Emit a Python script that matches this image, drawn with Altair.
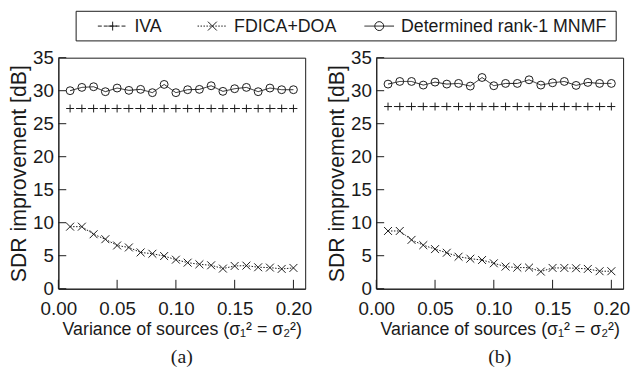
import altair as alt
import pandas as pd

series = ["IVA", "FDICA+DOA", "Determined rank-1 MNMF"]
x_vals = [0.01, 0.02, 0.03, 0.04, 0.05, 0.06, 0.07, 0.08, 0.09, 0.10,
          0.11, 0.12, 0.13, 0.14, 0.15, 0.16, 0.17, 0.18, 0.19, 0.20]

a_iva = [27.3, 27.3, 27.3, 27.3, 27.3, 27.3, 27.3, 27.3, 27.3, 27.3,
         27.3, 27.3, 27.3, 27.3, 27.3, 27.3, 27.3, 27.3, 27.3, 27.3]
a_fdica = [9.4, 9.4, 8.25, 7.5, 6.55, 6.25, 5.5, 5.3, 4.95, 4.4,
           3.95, 3.7, 3.55, 3.05, 3.45, 3.5, 3.25, 3.2, 3.0, 3.15]
a_mnmf = [30.0, 30.5, 30.6, 29.85, 30.4, 30.05, 30.2, 29.7, 30.95, 29.7,
          30.15, 30.2, 30.75, 29.9, 30.3, 30.5, 29.85, 30.4, 30.15, 30.15]

b_iva = [27.6, 27.6, 27.6, 27.6, 27.6, 27.6, 27.6, 27.6, 27.6, 27.6,
         27.6, 27.6, 27.6, 27.6, 27.6, 27.6, 27.6, 27.6, 27.6, 27.6]
b_fdica = [8.75, 8.75, 7.4, 6.6, 6.0, 5.45, 4.85, 4.55, 4.35, 3.85,
           3.35, 3.2, 3.2, 2.6, 3.15, 3.15, 3.1, 3.0, 2.65, 2.65]
b_mnmf = [31.0, 31.4, 31.4, 30.85, 31.3, 31.0, 31.1, 30.7, 32.0, 30.75,
          31.1, 31.1, 31.65, 30.85, 31.2, 31.4, 30.8, 31.25, 31.1, 31.1]

x_tick_vals = [0.0, 0.05, 0.10, 0.15, 0.20]
y_tick_vals = [0, 5, 10, 15, 20, 25, 30, 35]
panel_tags = ["(a)", "(b)"]

x_title = "Variance of sources (σ₁² = σ₂²)"
y_title = "SDR improvement [dB]"

INK = "#1a1a1a"
SANS = "Liberation Sans"
PLUS = "M-1,0L1,0M0,-1L0,1"
CROSS = "M-1,-1L1,1M-1,1L1,-1"
W, H = 250, 234

dash_scale = alt.Scale(domain=series, range=[[4, 2], [1.5, 1.5], [1, 0]])
shape_scale = alt.Scale(domain=series, range=[PLUS, CROSS, "circle"])

x_axis = alt.Axis(values=x_tick_vals, format=".2f", title=x_title,
                  ticks=False, tickSize=0, grid=False, labelPadding=11,
                  titlePadding=2, labelFlush=False, labelOverlap=False,
                  titleFontSize=18)
y_axis = alt.Axis(values=y_tick_vals, title=y_title, ticks=False,
                  tickSize=0, grid=False, labelPadding=5,
                  titlePadding=2, labelFlush=False, labelOverlap=False,
                  titleFontSize=21.5)

# legend entries: (label, line start, line end, marker x, text x) in px relative to panel (a)
leg_items = [
    (series[0], 40, 70, 55, 77, [4, 2], PLUS),
    (series[1], 141, 171, 156, 178, [1.5, 1.5], CROSS),
    (series[2], 310, 340, 325, 347, [1, 0], "circle"),
]
LEG_TOP, LEG_BOT = -47, -17


def legend_layers():
    layers = []
    layers.append(alt.Chart(alt.Data(values=[{"k": 1}])).mark_rect(
        fillOpacity=0, stroke=INK, strokeWidth=1).encode(
        x=alt.value(18), x2=alt.value(565), y=alt.value(LEG_TOP), y2=alt.value(LEG_BOT)))
    ly = (LEG_TOP + LEG_BOT) / 2
    for name, x1, x2, xm, xt, dash, shp in leg_items:
        d = alt.Data(values=[{"label": name}])
        layers.append(alt.Chart(d).mark_rule(color=INK, strokeWidth=1, strokeDash=dash).encode(
            x=alt.value(x1), x2=alt.value(x2), y=alt.value(ly)))
        layers.append(alt.Chart(d).mark_point(shape=shp, filled=False, size=81, strokeWidth=1,
                                              color=INK, opacity=1).encode(
            x=alt.value(xm), y=alt.value(ly)))
        layers.append(alt.Chart(d).mark_text(align="left", baseline="middle", font=SANS,
                                             fontSize=18, color=INK).encode(
            x=alt.value(xt), y=alt.value(ly + 1), text="label:N"))
    return layers


def panel(iva, fdica, mnmf, tag, with_legend):
    rows = []
    for name, vals in zip(series, [iva, fdica, mnmf]):
        for xv, yv in zip(x_vals, vals):
            rows.append({"x": xv, "value": yv, "series": name})
    df = pd.DataFrame(rows)
    xs = alt.Scale(domain=[0, 0.21], nice=False, zero=False)
    ys = alt.Scale(domain=[0, 35], nice=False)
    base = alt.Chart(df)
    lines = base.mark_line(color=INK, strokeWidth=1).encode(
        x=alt.X("x:Q", scale=xs, axis=x_axis, title=x_title),
        y=alt.Y("value:Q", scale=ys, axis=y_axis, title=y_title),
        strokeDash=alt.StrokeDash("series:N", scale=dash_scale, legend=None),
    )
    points = base.mark_point(filled=False, size=64, strokeWidth=1, color=INK, opacity=1).encode(
        x=alt.X("x:Q", scale=xs, axis=x_axis, title=x_title),
        y=alt.Y("value:Q", scale=ys, axis=y_axis, title=y_title),
        shape=alt.Shape("series:N", scale=shape_scale, legend=None),
    )
    ytk = alt.Chart(pd.DataFrame({"v": y_tick_vals})).mark_rule(color=INK, strokeWidth=1).encode(
        y=alt.Y("v:Q", scale=ys, axis=y_axis, title=y_title),
        x=alt.value(0), x2=alt.value(8),
    )
    xtk = alt.Chart(pd.DataFrame({"v": x_tick_vals})).mark_rule(color=INK, strokeWidth=1).encode(
        x=alt.X("v:Q", scale=xs, axis=x_axis, title=x_title),
        y=alt.value(H), y2=alt.value(H - 9),
    )
    layers = [lines, points, ytk, xtk]
    if with_legend:
        layers += legend_layers()
    return alt.layer(*layers).properties(
        width=W, height=H,
        title=alt.TitleParams(tag, orient="bottom", font="Liberation Serif",
                              fontSize=20, fontWeight="normal", color=INK, offset=9),
    )


chart = alt.hconcat(
    panel(a_iva, a_fdica, a_mnmf, panel_tags[0], True),
    panel(b_iva, b_fdica, b_mnmf, panel_tags[1], False),
    spacing=72, bounds="flush",
).properties(padding=0).configure_view(
    stroke=INK, strokeWidth=1
).configure_axis(
    labelFont=SANS, labelFontSize=19, labelColor=INK,
    titleFont=SANS, titleFontWeight="normal", titleColor=INK,
    domainColor=INK, domainWidth=1,
)

chart.save("out.html", embed_options={"renderer": "svg", "actions": False})
